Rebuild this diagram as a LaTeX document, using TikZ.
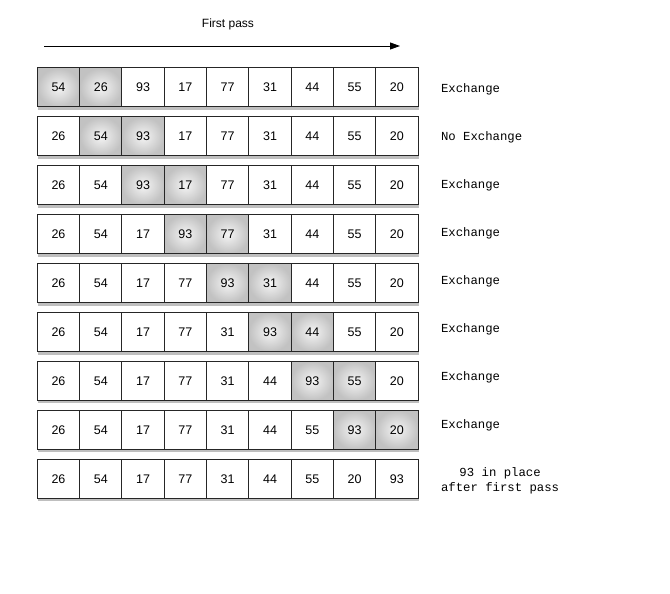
\documentclass[tikz,border=0pt]{standalone}
\usepackage{fontspec}
\setmainfont{Liberation Sans}
\newfontfamily\monofont{Liberation Mono}
\usepackage{tikz}
\usetikzlibrary{shadows, arrows.meta}

\tikzset{
  cell/.style={draw=black!85, line width=1pt, fill=white, minimum width=42.3pt, minimum height=39pt,
    inner sep=0pt, text height=9pt, text depth=0pt, font=\fontsize{12.5}{14}\selectfont,
    drop shadow={shadow xshift=1pt, shadow yshift=-3pt, opacity=0.25, fill=black}},
  hot/.style={cell, inner color=black!4, outer color=black!24},
  remark/.style={anchor=west, font=\monofont\fontsize{12.3}{15}\selectfont, align=center}
}

\begin{document}
\begin{tikzpicture}[x=1pt, y=-1pt]
\useasboundingbox (0, 0) rectangle (670, 594);

\node[font=\fontsize{12}{14}\selectfont] (title) at (228, 24) {First pass};
\coordinate (passstart) at (44, 46);
\coordinate (passend) at (400, 46);
\draw[line width=0.9pt, -{Triangle[length=10pt, width=7pt]}] (passstart) -- (passend);

% row 1
\node[hot] (c11) at (58.5, 87.5) {54};
\node[hot] (c12) at (100.8, 87.5) {26};
\node[cell] (c13) at (143.1, 87.5) {93};
\node[cell] (c14) at (185.4, 87.5) {17};
\node[cell] (c15) at (227.7, 87.5) {77};
\node[cell] (c16) at (270.0, 87.5) {31};
\node[cell] (c17) at (312.3, 87.5) {44};
\node[cell] (c18) at (354.6, 87.5) {55};
\node[cell] (c19) at (396.9, 87.5) {20};
\node[remark] (r1) at (437.5, 89) {Exchange};

% row 2
\node[cell] (c21) at (58.5, 136.4) {26};
\node[hot] (c22) at (100.8, 136.4) {54};
\node[hot] (c23) at (143.1, 136.4) {93};
\node[cell] (c24) at (185.4, 136.4) {17};
\node[cell] (c25) at (227.7, 136.4) {77};
\node[cell] (c26) at (270.0, 136.4) {31};
\node[cell] (c27) at (312.3, 136.4) {44};
\node[cell] (c28) at (354.6, 136.4) {55};
\node[cell] (c29) at (396.9, 136.4) {20};
\node[remark] (r2) at (437.5, 137) {No Exchange};

% row 3
\node[cell] (c31) at (58.5, 185.3) {26};
\node[cell] (c32) at (100.8, 185.3) {54};
\node[hot] (c33) at (143.1, 185.3) {93};
\node[hot] (c34) at (185.4, 185.3) {17};
\node[cell] (c35) at (227.7, 185.3) {77};
\node[cell] (c36) at (270.0, 185.3) {31};
\node[cell] (c37) at (312.3, 185.3) {44};
\node[cell] (c38) at (354.6, 185.3) {55};
\node[cell] (c39) at (396.9, 185.3) {20};
\node[remark] (r3) at (437.5, 185) {Exchange};

% row 4
\node[cell] (c41) at (58.5, 234.2) {26};
\node[cell] (c42) at (100.8, 234.2) {54};
\node[cell] (c43) at (143.1, 234.2) {17};
\node[hot] (c44) at (185.4, 234.2) {93};
\node[hot] (c45) at (227.7, 234.2) {77};
\node[cell] (c46) at (270.0, 234.2) {31};
\node[cell] (c47) at (312.3, 234.2) {44};
\node[cell] (c48) at (354.6, 234.2) {55};
\node[cell] (c49) at (396.9, 234.2) {20};
\node[remark] (r4) at (437.5, 233) {Exchange};

% row 5
\node[cell] (c51) at (58.5, 283.1) {26};
\node[cell] (c52) at (100.8, 283.1) {54};
\node[cell] (c53) at (143.1, 283.1) {17};
\node[cell] (c54) at (185.4, 283.1) {77};
\node[hot] (c55) at (227.7, 283.1) {93};
\node[hot] (c56) at (270.0, 283.1) {31};
\node[cell] (c57) at (312.3, 283.1) {44};
\node[cell] (c58) at (354.6, 283.1) {55};
\node[cell] (c59) at (396.9, 283.1) {20};
\node[remark] (r5) at (437.5, 281) {Exchange};

% row 6
\node[cell] (c61) at (58.5, 332.0) {26};
\node[cell] (c62) at (100.8, 332.0) {54};
\node[cell] (c63) at (143.1, 332.0) {17};
\node[cell] (c64) at (185.4, 332.0) {77};
\node[cell] (c65) at (227.7, 332.0) {31};
\node[hot] (c66) at (270.0, 332.0) {93};
\node[hot] (c67) at (312.3, 332.0) {44};
\node[cell] (c68) at (354.6, 332.0) {55};
\node[cell] (c69) at (396.9, 332.0) {20};
\node[remark] (r6) at (437.5, 329) {Exchange};

% row 7
\node[cell] (c71) at (58.5, 380.9) {26};
\node[cell] (c72) at (100.8, 380.9) {54};
\node[cell] (c73) at (143.1, 380.9) {17};
\node[cell] (c74) at (185.4, 380.9) {77};
\node[cell] (c75) at (227.7, 380.9) {31};
\node[cell] (c76) at (270.0, 380.9) {44};
\node[hot] (c77) at (312.3, 380.9) {93};
\node[hot] (c78) at (354.6, 380.9) {55};
\node[cell] (c79) at (396.9, 380.9) {20};
\node[remark] (r7) at (437.5, 377) {Exchange};

% row 8
\node[cell] (c81) at (58.5, 429.8) {26};
\node[cell] (c82) at (100.8, 429.8) {54};
\node[cell] (c83) at (143.1, 429.8) {17};
\node[cell] (c84) at (185.4, 429.8) {77};
\node[cell] (c85) at (227.7, 429.8) {31};
\node[cell] (c86) at (270.0, 429.8) {44};
\node[cell] (c87) at (312.3, 429.8) {55};
\node[hot] (c88) at (354.6, 429.8) {93};
\node[hot] (c89) at (396.9, 429.8) {20};
\node[remark] (r8) at (437.5, 425) {Exchange};

% row 9
\node[cell] (c91) at (58.5, 478.7) {26};
\node[cell] (c92) at (100.8, 478.7) {54};
\node[cell] (c93) at (143.1, 478.7) {17};
\node[cell] (c94) at (185.4, 478.7) {77};
\node[cell] (c95) at (227.7, 478.7) {31};
\node[cell] (c96) at (270.0, 478.7) {44};
\node[cell] (c97) at (312.3, 478.7) {55};
\node[cell] (c98) at (354.6, 478.7) {20};
\node[cell] (c99) at (396.9, 478.7) {93};
\node[remark] (r9) at (437.5, 481) {93 in place\\after first pass};
\end{tikzpicture}
\end{document}
